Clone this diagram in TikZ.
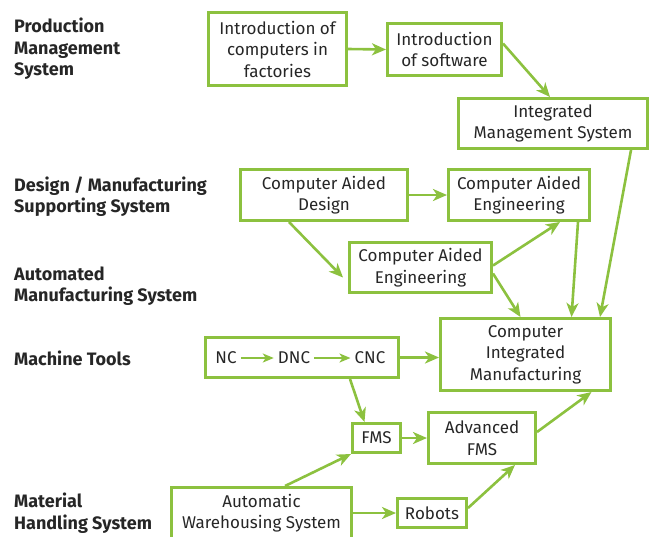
\documentclass[tikz,border=0pt]{standalone}
\usepackage{fontspec}
\setmainfont{Fira Sans}
\usepackage{tikz}
\usetikzlibrary{arrows.meta,positioning,calc}

\definecolor{leaf}{RGB}{140,193,63}
\definecolor{ink}{RGB}{38,38,38}

\begin{document}
\begin{tikzpicture}[
    x=1pt, y=-1pt,
    stage/.style={rectangle, draw=leaf, line width=3pt, align=center, text=ink, inner sep=1pt, font=\fontsize{17}{21.5}\selectfont},
    group/.style={anchor=west, align=left, text=ink, inner sep=0pt, font=\fontsize{18}{21.5}\selectfont\bfseries},
    tool/.style={text=ink, inner sep=4pt, font=\fontsize{17}{21.5}\selectfont},
    arrow/.style={-{Stealth[length=14pt, width=12pt, inset=4pt]}, line width=2.6pt, draw=leaf},
    small arrow/.style={-{Stealth[length=11pt, width=9pt, inset=3pt]}, line width=2.6pt, draw=leaf}
]
\useasboundingbox (0,0) rectangle (652,536);
\clip (0,0) rectangle (652,536);

% Left column: system levels
\node[group] (lbl_prod) at (14,49) {Production\\Management\\System};
\node[group] (lbl_design) at (14,196.5) {Design / Manufacturing\\Supporting System};
\node[group] (lbl_auto) at (14,286) {Automated\\Manufacturing System};
\node[group] (lbl_tools) at (14,358) {Machine Tools};
\node[group] (lbl_material) at (14,513) {Material\\Handling System};

% Production management
\node[stage, minimum width=138pt, minimum height=73pt] (intro) at (277.5,49) {Introduction of\\computers in\\factories};
\node[stage, minimum width=114pt, minimum height=52pt] (software) at (444.5,49.5) {Introduction\\of software};
\node[stage, minimum width=189pt, minimum height=50pt] (ims) at (553,123.5) {Integrated\\Management System};

% Design / manufacturing support
\node[stage, minimum width=167pt, minimum height=51pt] (cad) at (324,195) {Computer Aided\\Design};
\node[stage, minimum width=141pt, minimum height=51pt] (cae_top) at (519,195) {Computer Aided\\Engineering};
\node[stage, minimum width=142pt, minimum height=50pt] (cae_mid) at (420.5,267.5) {Computer Aided\\Engineering};

% Integration
\node[stage, minimum width=170pt, minimum height=72pt] (cim) at (525.5,354.5) {Computer\\Integrated\\Manufacturing};

% Machine tools
\node[stage, minimum width=193pt, minimum height=40pt] (mt) at (302,357.5) {};
\node[tool] (nc) at (226,358) {NC};
\node[tool] (dnc) at (294,358) {DNC};
\node[tool] (cnc) at (370,358) {CNC};

% Flexible manufacturing and material handling
\node[stage, minimum width=48pt, minimum height=29pt] (fms) at (376.5,438) {FMS};
\node[stage, minimum width=107pt, minimum height=51pt] (afms) at (482,438) {Advanced\\FMS};
\node[stage, minimum width=69pt, minimum height=29pt] (robots) at (432,513) {Robots};
\node[stage, minimum width=180pt, minimum height=51pt] (aws) at (261.5,513) {Automatic\\Warehousing System};

% Connectors
\draw[arrow] (intro.east) -- (software.west);
\draw[arrow] ([yshift=6pt]software.east) -- ([xshift=-3pt]ims.north);
\draw[arrow] ([xshift=78pt]ims.south) -- ([xshift=74.5pt]cim.north);

\draw[arrow] (cad.east) -- (cae_top.west);
\draw[arrow] ([xshift=-35pt]cad.south) -- ([xshift=-5pt,yshift=-10pt]cae_mid.west);
\draw[arrow] ([yshift=2pt]cae_mid.east) -- ([xshift=41pt]cae_top.south);
\draw[arrow] ([yshift=-6pt]cae_mid.east) -- ([xshift=-5pt]cim.north);
\draw[arrow] ([xshift=59pt]cae_top.south) -- ([xshift=46pt]cim.north);

\draw[small arrow] (nc) -- (dnc);
\draw[small arrow] (dnc) -- (cnc);
\draw[arrow] (mt.east) -- (mt.east -| cim.west);
\draw[arrow] ([xshift=48pt]mt.south) -- ([xshift=-12pt]fms.north);

\draw[arrow] (fms.east) -- (fms.east -| afms.west);
\draw[arrow] ([yshift=6pt]afms.east) -- ([xshift=66pt]cim.south);
\draw[arrow] ([yshift=5pt]robots.east) -- ([xshift=33pt]afms.south);
\draw[arrow] (aws.east) -- (robots.west);
\draw[arrow] ([xshift=23.5pt]aws.north) -- (fms.south west);

\end{tikzpicture}
\end{document}
